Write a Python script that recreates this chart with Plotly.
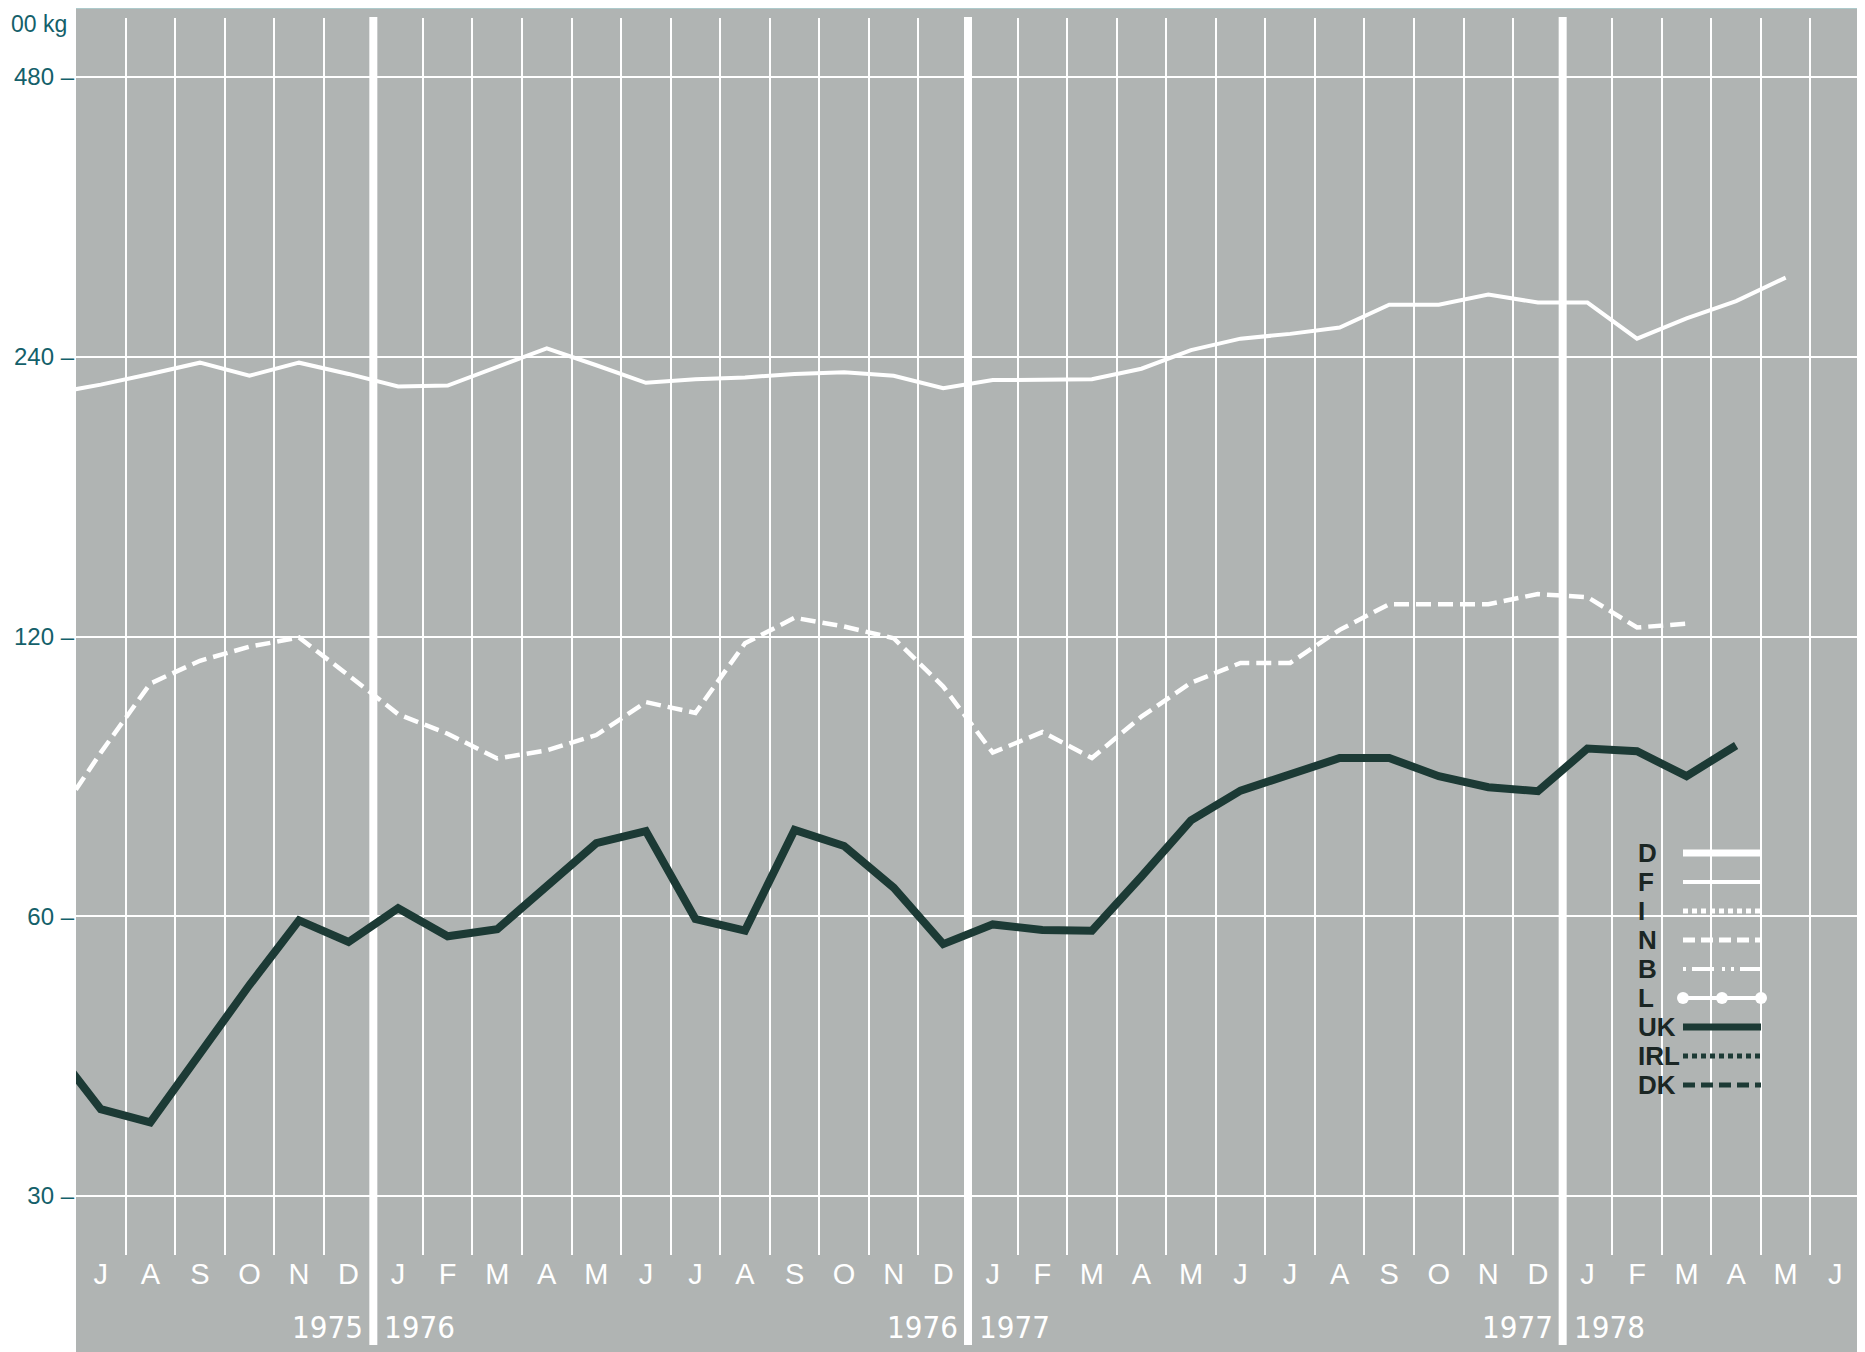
import math
import plotly.graph_objects as go

# ---------------- data ----------------
# month index -1 = Jun 1975 (only partly visible at the left edge), 0 = Jul 1975 ... 35 = Jun 1978
MONTH_LETTERS = ["J", "A", "S", "O", "N", "D",
                 "J", "F", "M", "A", "M", "J", "J", "A", "S", "O", "N", "D",
                 "J", "F", "M", "A", "M", "J", "J", "A", "S", "O", "N", "D",
                 "J", "F", "M", "A", "M", "J"]
FIRST_INDEX = -1

F_values = [219, 224, 230, 236.5, 229, 236.5, 230,
            223, 223.5, 234, 245, 235, 225, 227, 228, 230, 231, 229, 222,
            226.5, 226.5, 227, 233, 244, 251, 254, 258, 273, 273, 280, 274.5,
            274.5, 251, 264, 275.5, 292, None]

N_values = [75, 90, 106.8, 113, 117, 119.7, 109,
            99, 94.3, 88.7, 90.5, 94, 102, 99.3, 118, 125.7, 123, 119.5, 106,
            90, 94.7, 88.8, 98.4, 107, 112.4, 112.4, 122, 130, 130, 130, 133.3,
            132.3, 122.7, 123.9, None, None, None]

UK_values = [43.6, 37.2, 36.0, 42.7, 50.6, 59.4, 56.3,
             61.2, 57.1, 58.1, 64.6, 71.9, 74.1, 59.6, 57.9, 74.3, 71.4, 64.4, 56.0,
             58.8, 58.0, 57.9, 66.2, 76.1, 81.9, 85.5, 88.8, 88.8, 84.9, 82.6, 81.8,
             90.9, 90.3, 84.9, 91.6, None, None]

Y_TICKS = [30, 60, 120, 240, 480]
Y_TICK_TEXT = ["30 –", "60 –", "120 –", "240 –", "480 –"]

YEAR_BOUNDARIES = [5.5, 17.5, 29.5]
YEAR_LEFT = ["1975", "1976", "1977"]
YEAR_RIGHT = ["1976", "1977", "1978"]

LEGEND_KEYS = ["D", "F", "I", "N", "B", "L", "UK", "IRL", "DK"]

# ---------------- geometry (page pixels; page body has an 8px margin) ----------------
OFF = 8
W, H = 1865 - OFF, 1352 - OFF
PL, PR, PT, PB = 76, 1860, 18, 1255          # plot area in page coordinates
ML, MT = PL - OFF, PT - OFF
MR, MB = W - (PR - OFF), H - (PB - OFF)
PW, PH = PR - PL, PB - PT


def px(xp):
    return (xp - PL) / PW


def py(yp):
    return 1 - (yp - PT) / PH


GREY = "#b0b4b3"
WHITE = "#ffffff"
DARK = "#1c3a35"
TEAL = "#14606a"
LBL = "#1b2624"
FONT = "Liberation Sans, Arial, Helvetica, sans-serif"
NARROW = "Liberation Sans Narrow, DejaVu Sans Condensed, Roboto, sans-serif"

x_idx = list(range(FIRST_INDEX, FIRST_INDEX + len(F_values)))

pad = (59 / 279.75) * math.log10(2)
y_range = [math.log10(30) - pad, math.log10(480) + pad]

fig = go.Figure()

fig.add_trace(go.Scatter(x=x_idx, y=F_values, mode="lines", name="F",
                         line=dict(color=WHITE, width=4), showlegend=False))
fig.add_trace(go.Scatter(x=x_idx, y=N_values, mode="lines", name="N",
                         line=dict(color=WHITE, width=4.5, dash="15px,7px"),
                         showlegend=False))
fig.add_trace(go.Scatter(x=x_idx, y=UK_values, mode="lines", name="UK",
                         line=dict(color=DARK, width=8), showlegend=False))

# ---------------- custom key (overlay axes 0..1) ----------------
leg_styles = {
    "D": dict(color=WHITE, width=7, dash="solid"),
    "F": dict(color=WHITE, width=4, dash="solid"),
    "I": dict(color=WHITE, width=5, dash="5px,4px"),
    "N": dict(color=WHITE, width=5, dash="12px,6px"),
    "B": dict(color=WHITE, width=4, dash="3px,6px,22px,8px,3px,6px"),
    "L": dict(color=WHITE, width=4, dash="solid"),
    "UK": dict(color=DARK, width=7, dash="solid"),
    "IRL": dict(color=DARK, width=5, dash="5px,4px"),
    "DK": dict(color=DARK, width=5, dash="12px,6px"),
}
sx0, sx1, lx = px(1683), px(1761), px(1636)
annotations = []
for i, key in enumerate(LEGEND_KEYS):
    yy = py(853 + 29 * i)
    st = leg_styles[key]
    if key == "L":
        fig.add_trace(go.Scatter(x=[sx0, (sx0 + sx1) / 2, sx1], y=[yy] * 3, mode="lines+markers",
                                 line=dict(color=st["color"], width=st["width"]),
                                 marker=dict(color=WHITE, size=12),
                                 xaxis="x2", yaxis="y2", showlegend=False, hoverinfo="skip"))
    else:
        fig.add_trace(go.Scatter(x=[sx0, sx1], y=[yy, yy], mode="lines",
                                 line=dict(color=st["color"], width=st["width"], dash=st["dash"]),
                                 xaxis="x2", yaxis="y2", showlegend=False, hoverinfo="skip"))
    annotations.append(dict(text=key, xref="paper", yref="paper", x=lx, y=yy,
                            xanchor="left", yanchor="middle", showarrow=False,
                            font=dict(family=FONT, size=26, color=LBL, weight="bold")))

# year labels
for xb, yl, yr in zip(YEAR_BOUNDARIES, YEAR_LEFT, YEAR_RIGHT):
    yy = py(1327)
    annotations.append(dict(text=yl, xref="x", yref="paper", x=xb, y=yy, xanchor="right",
                            yanchor="middle", xshift=-8, showarrow=False,
                            font=dict(family=NARROW, size=31, color=WHITE)))
    annotations.append(dict(text=yr, xref="x", yref="paper", x=xb, y=yy, xanchor="left",
                            yanchor="middle", xshift=9, showarrow=False,
                            font=dict(family=NARROW, size=31, color=WHITE)))

# unit label (its first digit is cut by the page edge in the reference)
annotations.append(dict(text="00 kg", xref="paper", yref="paper", x=px(OFF + 1),
                        y=py(OFF + 1), xanchor="left", yanchor="top", showarrow=False,
                        font=dict(family=FONT, size=23, color=TEAL)))

shapes = [
    dict(type="rect", xref="paper", yref="paper", x0=0, x1=px(1866),
         y0=py(1360), y1=py(7), fillcolor=GREY, line=dict(width=0), layer="below"),
    dict(type="line", xref="paper", yref="paper", x0=0, x1=px(1866),
         y0=py(7), y1=py(7), line=dict(color="#a9dfe3", width=3), layer="below"),
]
for xb in YEAR_BOUNDARIES:
    shapes.append(dict(type="line", xref="x", yref="paper", x0=xb, x1=xb,
                       y0=py(1345), y1=py(17),
                       line=dict(color=WHITE, width=8), layer="between"))

minor_vals = [k + 0.5 for k in range(0, 35) if (k + 0.5) not in YEAR_BOUNDARIES]

fig.update_layout(
    width=W, height=H,
    margin=dict(l=ML, r=MR, t=MT, b=MB, pad=0, autoexpand=False),
    paper_bgcolor="white", plot_bgcolor=GREY,
    showlegend=False,
    xaxis=dict(range=[-0.5, 35.5], tickmode="array", tickvals=list(range(len(MONTH_LETTERS))),
               ticktext=MONTH_LETTERS, showgrid=False, zeroline=False, showline=False,
               ticks="", ticklen=0, ticklabelstandoff=-1, automargin=False,
               tickfont=dict(family=FONT, size=29, color=WHITE),
               minor=dict(tickmode="array", tickvals=minor_vals, showgrid=True,
                          gridcolor=WHITE, gridwidth=2, ticks=""),
               fixedrange=True),
    yaxis=dict(type="log", range=y_range, tickmode="array", tickvals=Y_TICKS,
               ticktext=Y_TICK_TEXT, showgrid=True, gridcolor=WHITE, gridwidth=2,
               zeroline=False, showline=False, ticks="", ticklabelstandoff=1, automargin=False,
               tickfont=dict(family=FONT, size=24, color=TEAL), fixedrange=True),
    xaxis2=dict(overlaying="x", range=[0, 1], visible=False, fixedrange=True),
    yaxis2=dict(overlaying="y", range=[0, 1], visible=False, fixedrange=True),
    shapes=shapes,
    annotations=annotations,
)

fig.write_html("out.html")
